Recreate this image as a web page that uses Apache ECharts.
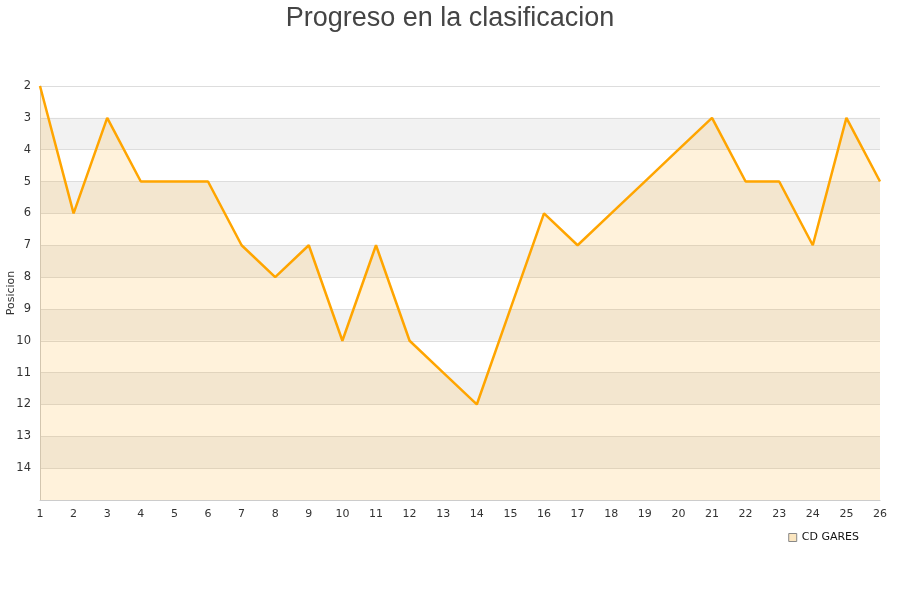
<!DOCTYPE html>
<html><head><meta charset="utf-8">
<script src="https://cdn.jsdelivr.net/npm/echarts@6/dist/echarts.min.js"></script>
<style>html,body{margin:0;padding:0;background:#fff}#c{width:900px;height:600px}</style>
</head><body><div id="c"></div>
<script>
const rounds = ['1','2','3','4','5','6','7','8','9','10','11','12','13','14','15','16','17','18','19','20','21','22','23','24','25','26'];
const positions = [2,6,3,5,5,5,7,8,7,10,7,10,11,12,9,6,7,6,5,4,3,5,5,7,3,5];
const yTicks = [2,3,4,5,6,7,8,9,10,11,12,13,14];
const teamName = 'CD GARES';

const chart = echarts.init(document.getElementById('c'));
chart.setOption({
  animation: false,
  title: {text: 'Progreso en la clasificacion', left: 'center', top: 0,
    textStyle: {fontFamily: 'Liberation Sans', fontSize: 27, fontWeight: 'normal', color: '#444'}},
  legend: {data: [teamName], right: 36, top: 527, icon: 'rect', itemWidth: 8, itemHeight: 8,
    textStyle: {fontFamily: 'DejaVu Sans', fontSize: 11, color: '#111'},
    itemStyle: {color: '#fbe6c0', borderColor: '#888', borderWidth: 1}},
  grid: {left: 40, right: 20, top: 86, bottom: 100, containLabel: false, outerBoundsMode: 'none'},
  xAxis: {type: 'category', data: rounds, boundaryGap: false,
    axisLine: {lineStyle: {color: '#ccc'}}, axisTick: {show: false},
    axisLabel: {fontFamily: 'DejaVu Sans', fontSize: 11, color: '#333', margin: 9}},
  yAxis: {type: 'value', inverse: true, min: 2, max: 15, interval: 1,
    name: 'Posicion', nameLocation: 'middle', nameGap: 23, nameMoveOverlap: false,
    nameTextStyle: {fontFamily: 'DejaVu Sans', fontSize: 11, color: '#333'},
    axisLine: {show: true, lineStyle: {color: '#ccc'}}, axisTick: {show: false},
    axisLabel: {fontFamily: 'DejaVu Sans', fontSize: 11.5, color: '#333', margin: 9,
      formatter: v => yTicks.includes(v) ? String(v) : ''},
    splitLine: {lineStyle: {color: '#ddd'}},
    splitArea: {show: true, areaStyle: {color: ['#ffffff', '#f2f2f2']}}},
  series: [{name: teamName, type: 'line', data: positions, symbol: 'none',
    lineStyle: {color: '#ffa500', width: 2.5}, itemStyle: {color: '#ffa500'},
    areaStyle: {origin: 'end', color: 'rgba(255,165,0,0.2)'}}]
});
</script></body></html>
